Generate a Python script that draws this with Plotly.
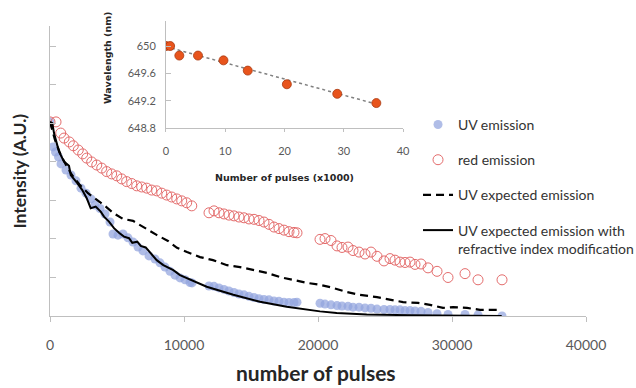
import plotly.graph_objects as go

# --- main chart data (number of pulses vs intensity, arbitrary units) ---
uv_x = [0, 224, 410, 634, 821, 1194, 1567, 1940, 2313, 2687, 3060, 3358, 3731, 4105, 4478,
        4701, 5075, 5448, 5821, 6194, 6567, 6940, 7388, 7836, 8209, 8582, 8955, 9328, 9702,
        10075, 10448, 10597,
        11866, 12239, 12612, 12985, 13358, 13732, 14105, 14478, 14851, 15224, 15597, 15971,
        16344, 16717, 17090, 17463, 17836, 18209, 18433,
        20150, 20523, 20971, 21419, 21791, 22240, 22613, 23061, 23508, 23956, 24404, 24926,
        25374, 25747, 26120, 26494, 26867, 27240, 27688, 28210, 28882, 29703, 30972, 31942, 33733]
uv_y = [5.04, 4.39, 4.26, 4.13, 3.95, 3.79, 3.66, 3.51, 3.32, 3.19, 3.04, 2.88, 2.79, 2.65, 2.44,
        2.13, 2.10, 2.13, 2.03, 1.92, 1.79, 1.69, 1.56, 1.48, 1.38, 1.27, 1.16, 1.06, 0.99,
        0.94, 0.87, 0.86,
        0.78, 0.77, 0.73, 0.69, 0.65, 0.61, 0.57, 0.55, 0.51, 0.48, 0.45, 0.43,
        0.42, 0.39, 0.38, 0.36, 0.35, 0.35, 0.36,
        0.33, 0.31, 0.29, 0.27, 0.26, 0.25, 0.23, 0.23, 0.21, 0.20, 0.18, 0.17,
        0.17, 0.16, 0.16, 0.14, 0.14, 0.13, 0.12, 0.09, 0.06, 0.04, 0.04, 0.03, 0.00]

red_x = [0, 450, 800, 1050, 1440, 1740, 2110, 2440, 2740, 3110, 3490, 3860, 4230, 4600, 4980,
         5350, 5720, 6100, 6470, 6840, 7220, 7590, 7960, 8340, 8710, 9080, 9460, 9830, 10200, 10580,
         11866, 12239, 12612, 12985, 13358, 13732, 14105, 14478, 14851, 15224, 15597, 15971,
         16344, 16717, 17090, 17463, 17836, 18209, 18433,
         20150, 20523, 20971, 21419, 21791, 22240, 22613, 23061, 23508, 23956, 24404, 24926,
         25374, 25747, 26120, 26494, 26867, 27240, 27688, 28210, 28882, 29703, 30972, 31942, 33733]
red_y = [5.04, 5.04, 4.75, 4.62, 4.52, 4.42, 4.31, 4.21, 4.10, 4.00, 3.92, 3.84, 3.75, 3.69, 3.64,
         3.56, 3.49, 3.44, 3.38, 3.35, 3.32, 3.27, 3.25, 3.19, 3.14, 3.09, 3.04, 2.99, 2.94, 2.86,
         2.68, 2.73, 2.68, 2.65, 2.62, 2.60, 2.57, 2.55, 2.52, 2.51, 2.48, 2.44,
         2.38, 2.31, 2.27, 2.23, 2.19, 2.17, 2.16,
         1.99, 2.01, 1.96, 1.82, 1.78, 1.79, 1.70, 1.66, 1.61, 1.66, 1.55, 1.43,
         1.49, 1.45, 1.40, 1.39, 1.40, 1.34, 1.35, 1.25, 1.16, 1.00, 1.10, 0.94, 0.94]

exp_x = [0, 373, 746, 1194, 1642, 2239, 2836, 3433, 4030, 4702, 5448, 6194, 6941, 7985, 8806,
         9478, 10224, 11194, 12164, 13209, 14179, 15149, 16194, 17164, 18134, 19179, 20149,
         21119, 22164, 23134, 24403, 25373, 26343, 27463, 28358, 29328, 30075, 31120, 32090, 33358]
exp_y = [5.04, 4.57, 4.23, 3.92, 3.66, 3.40, 3.19, 3.04, 2.88, 2.68, 2.52, 2.47, 2.31, 2.10, 1.95,
         1.77, 1.66, 1.53, 1.45, 1.32, 1.27, 1.19, 1.12, 1.01, 0.94, 0.86, 0.81,
         0.73, 0.62, 0.55, 0.49, 0.42, 0.36, 0.34, 0.29, 0.21, 0.23, 0.21, 0.16, 0.16]

ri_x = [0, 172, 299, 425, 672, 1045, 1269, 1418, 1545, 1791, 2037, 2410, 2739, 3037, 3411,
        3784, 4030, 4403, 4776, 5149, 5522, 5896, 6142, 6515, 6769, 7142, 7515, 7963, 8455,
        9202, 9702, 10448, 11694, 13680, 15672, 17665, 19157, 20150, 21396, 23635, 26867,
        29852, 33709]
ri_y = [5.04, 5.01, 4.75, 4.57, 4.27, 4.01, 3.95, 3.90, 3.66, 3.56, 3.45, 3.27, 3.06, 2.80, 2.84,
        2.71, 2.58, 2.45, 2.28, 2.16, 2.06, 2.02, 1.90, 1.93, 1.82, 1.78, 1.63, 1.45, 1.32,
        1.19, 1.06, 0.94, 0.76, 0.55, 0.37, 0.24, 0.16, 0.12, 0.08, 0.04, 0.02,
        0.01, 0.00]

# --- inset data: wavelength vs number of pulses (x1000) ---
wl_x = [0, 0.7, 2.25, 5.4, 9.7, 13.8, 20.4, 28.9, 35.5]
wl_y = [650.0, 650.0, 649.86, 649.86, 649.79, 649.64, 649.44, 649.30, 649.165]
trend_x = [0, 35.5]
trend_y = [649.99, 649.15]

TICK = "#595959"
AXIS = "#BFBFBF"

fig = go.Figure()

fig.add_trace(go.Scatter(
    x=uv_x, y=uv_y, mode="markers", name="UV emission", legendgroup="a",
    marker=dict(size=9, color="rgba(145,163,222,0.72)", line=dict(width=0)),
))
fig.add_trace(go.Scatter(
    x=red_x, y=red_y, mode="markers", name="red emission", legendgroup="b",
    marker=dict(size=10, symbol="circle-open", color="#E46C6C", line=dict(width=1)),
))
fig.add_trace(go.Scatter(
    x=exp_x, y=exp_y, mode="lines", name="UV expected emission", legendgroup="c",
    line=dict(color="black", width=2.2, dash="8px,5px"),
))
fig.add_trace(go.Scatter(
    x=ri_x, y=ri_y, mode="lines", legendgroup="d",
    name="UV expected emission with<br>refractive index modification",
    line=dict(color="black", width=2),
))

# inset
fig.add_trace(go.Scatter(
    x=trend_x, y=trend_y, mode="lines", xaxis="x2", yaxis="y2", showlegend=False,
    line=dict(color="#808080", width=1.5, dash="3px,3px"),
))
fig.add_trace(go.Scatter(
    x=wl_x, y=wl_y, mode="markers", xaxis="x2", yaxis="y2", showlegend=False,
    marker=dict(size=9, color="#E8541C", line=dict(width=0.8, color="#A83A12")),
))

fig.update_layout(
    width=636, height=388,
    margin=dict(l=50, r=50, t=21, b=72, autoexpand=False),
    paper_bgcolor="white", plot_bgcolor="white",
    font=dict(family="Lato", color="#404040"),
    xaxis=dict(
        range=[0, 40000], tickvals=[0, 10000, 20000, 30000, 40000], tickformat="d",
        showgrid=False, zeroline=False, showline=True, linecolor=AXIS, linewidth=1,
        ticks="outside", ticklen=5, tickcolor=AXIS, ticklabelstandoff=11,
        tickfont=dict(size=14, color=TICK), automargin=False,
    ),
    yaxis=dict(
        range=[0, 7.53], domain=[0, 0.983], tickvals=[1, 2, 3, 4, 5, 6, 7],
        showticklabels=False, showgrid=False, zeroline=False,
        showline=True, linecolor=AXIS, linewidth=1,
        ticks="inside", ticklen=6, tickcolor=AXIS, automargin=False,
    ),
    xaxis2=dict(
        domain=[0.2164, 0.6586], anchor="y2", range=[0, 40],
        tickvals=[0, 10, 20, 30, 40],
        showgrid=False, zeroline=False, showline=True, linecolor=AXIS, linewidth=1,
        ticks="outside", ticklen=3, tickcolor=AXIS, ticklabelstandoff=10,
        tickfont=dict(size=11, color=TICK),
    ),
    yaxis2=dict(
        domain=[0.6373, 1.0], anchor="x2", range=[648.8, 650.366],
        tickvals=[648.8, 649.2, 649.6, 650], ticktext=["648.8", "649.2", "649.6", "650"],
        showgrid=False, zeroline=False, showline=True, linecolor=AXIS, linewidth=1,
        ticks="inside", ticklen=5, tickcolor=AXIS, ticklabelstandoff=7,
        tickfont=dict(size=11, color=TICK),
    ),
    legend=dict(
        x=0.6866, y=0.702, xanchor="left", yanchor="top",
        bgcolor="rgba(0,0,0,0)", borderwidth=0, tracegroupgap=14, valign="top",
        font=dict(size=14, color="#333333"),
    ),
    annotations=[
        dict(text="<b>number of pulses</b>", xref="paper", yref="paper",
             x=0.496, y=-0.19, xanchor="center", yanchor="middle", showarrow=False,
             font=dict(size=21, color="#262626")),
        dict(text="<b>Intensity (A.U.)</b>", xref="paper", yref="paper",
             x=-0.0578, y=0.49, xanchor="center", yanchor="middle", showarrow=False,
             textangle=-90, font=dict(size=17.5, color="#262626")),
        dict(text="<b>Wavelength (nm)</b>", xref="paper", yref="paper",
             x=0.1073, y=0.873, xanchor="center", yanchor="middle", showarrow=False,
             textangle=-90, font=dict(family="DejaVu Sans", size=9.5, color="#262626")),
        dict(text="<b>Number of pulses (x1000)</b>", xref="paper", yref="paper",
             x=0.4384, y=0.468, xanchor="center", yanchor="middle", showarrow=False,
             font=dict(family="DejaVu Sans", size=9.5, color="#262626")),
    ],
)

fig.write_html("out.html", config={"displayModeBar": False},
               post_script="document.body.style.margin='0';")
